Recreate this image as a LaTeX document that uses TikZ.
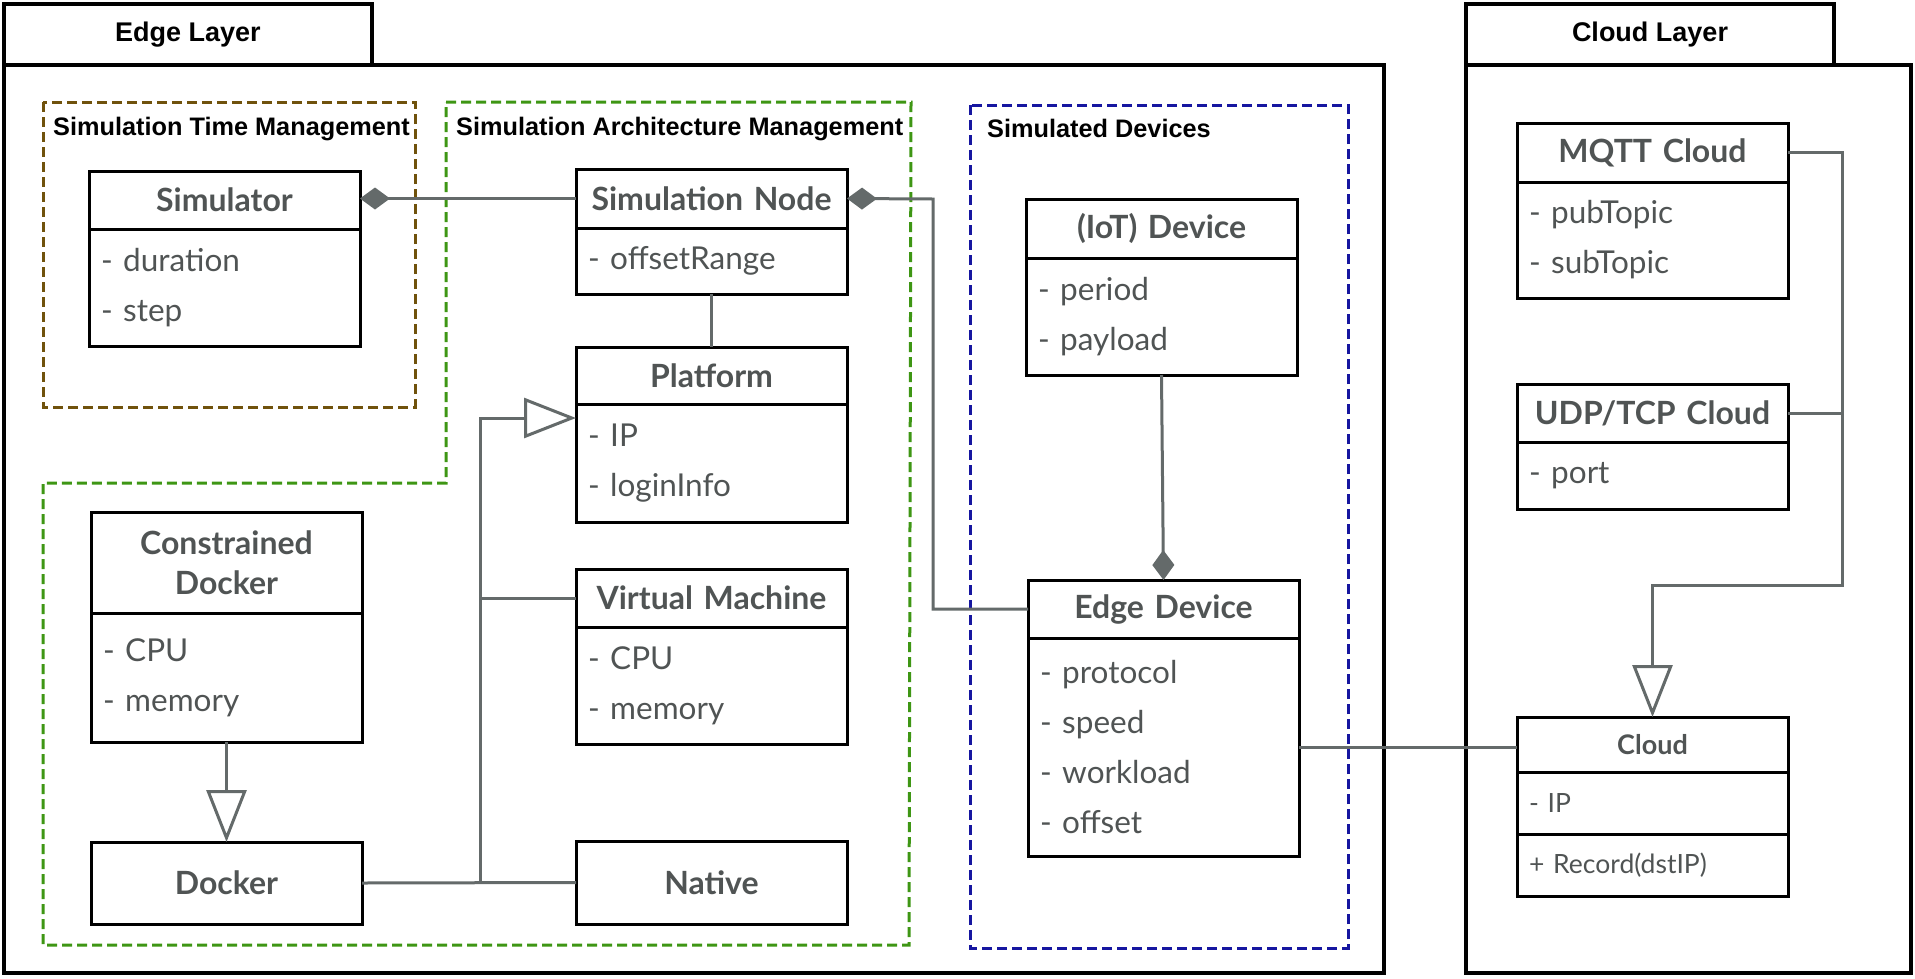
\documentclass[tikz,border=0pt]{standalone}
\usepackage{fontspec}
\setmainfont{Lato}
\newfontfamily\labelfont{Liberation Sans}
\usetikzlibrary{positioning,arrows.meta}
\definecolor{boxtext}{RGB}{80,84,84}
\definecolor{linkgray}{RGB}{100,106,106}
\definecolor{timebrown}{RGB}{112,82,12}
\definecolor{archgreen}{RGB}{62,150,20}
\definecolor{devblue}{RGB}{22,22,160}

\begin{document}
\begin{tikzpicture}[x=1pt, y=-1pt,
  umltitle/.style={draw, line width=3pt, outer sep=0pt, anchor=north west,
    minimum width=271pt, text width=247pt, inner xsep=12pt, inner ysep=0pt,
    minimum height=#1, align=center, text=boxtext,
    font=\fontsize{32}{40}\selectfont\bfseries},
  umltitle/.default=58pt,
  umlattrs/.style={draw, line width=3pt, outer sep=0pt,
    minimum width=271pt, text width=247pt, inner xsep=12pt, inner ysep=0pt,
    minimum height=#1, align=left, text=boxtext,
    font=\fontsize{31.5}{50}\selectfont},
  small/.style={font=\fontsize{26.5}{32}\selectfont},
  smallbold/.style={font=\fontsize{27}{32}\selectfont\bfseries},
  layertab/.style={draw, line width=3.5pt, outer sep=0pt, anchor=north west,
    minimum width=368pt, minimum height=61pt,
    font=\labelfont\fontsize{27}{30}\selectfont\bfseries},
  layer/.style={line width=3.5pt},
  grouplabel/.style={anchor=west, inner sep=0pt,
    font=\labelfont\fontsize{25.3}{28}\selectfont\bfseries},
  group/.style={line width=3pt, dash pattern=on 10pt off 5pt},
  conn/.style={draw=linkgray, line width=3pt},
  owns/.style={-{Diamond[length=30pt,width=22pt,fill=linkgray]}},
  extends/.style={-{Triangle[open,length=52pt,width=40pt,fill=white]}}]

\useasboundingbox (0,0) rectangle (1915,978);

% layers
\node[layertab] (edgetab) at (4,4) {Edge Layer};
\draw[layer] (4,65) rectangle (1384,973);
\node[layertab] (cloudtab) at (1466,4) {Cloud Layer};
\draw[layer] (1466,65) rectangle (1911,973);

% groups
\draw[group, timebrown] (43,102) rectangle (415,407);
\draw[group, archgreen] (446,102) -- (911,102) -- (909,945) -- (43,945) -- (43,483) -- (446,483) -- cycle;
\draw[group, devblue] (970,105) rectangle (1348,948);
\node[grouplabel] (timelbl) at (53,129) {Simulation Time Management};
\node[grouplabel] (archlbl) at (456,129) {Simulation Architecture Management};
\node[grouplabel] (devlbl) at (987,128) {Simulated Devices};

% classes
\node[umltitle] (simulator) at (89,171) {Simulator};
\node[umlattrs=117pt, below=0pt of simulator] (simulatorA) {- duration\\- step};
\node[umltitle=59pt] (simnode) at (576,169) {Simulation Node};
\node[umlattrs=66pt, below=0pt of simnode] (simnodeA) {- offsetRange};
\node[umltitle=57pt] (platform) at (576,347) {Platform};
\node[umlattrs=118pt, below=0pt of platform] (platformA) {- IP\\- loginInfo};
\node[umltitle] (vm) at (576,569) {Virtual Machine};
\node[umlattrs=117pt, below=0pt of vm] (vmA) {- CPU\\- memory};
\node[umltitle=83pt] (native) at (576,841) {Native};
\node[umltitle=101pt] (cdocker) at (91,512) {Constrained\\Docker};
\node[umlattrs=129pt, below=0pt of cdocker] (cdockerA) {- CPU\\- memory};
\node[umltitle=82pt] (docker) at (91,842) {Docker};

\node[umltitle=59pt] (iot) at (1026,199) {(IoT) Device};
\node[umlattrs=117pt, below=0pt of iot] (iotA) {- period\\- payload};
\node[umltitle] (edgedev) at (1028,580) {Edge Device};
\node[umlattrs=218pt, below=0pt of edgedev] (edgedevA) {- protocol\\- speed\\- workload\\- offset};

\node[umltitle=59pt] (mqtt) at (1517,123) {MQTT Cloud};
\node[umlattrs=116pt, below=0pt of mqtt] (mqttA) {- pubTopic\\- subTopic};
\node[umltitle] (udp) at (1517,384) {UDP/TCP Cloud};
\node[umlattrs=67pt, below=0pt of udp] (udpA) {- port};
\node[umltitle=55pt, smallbold] (cloud) at (1517,717) {Cloud};
\node[umlattrs=62pt, small, below=0pt of cloud] (cloudA) {- IP};
\node[umlattrs=62pt, small, below=0pt of cloudA] (cloudM) {+ Record(dstIP)};

% links
\coordinate (nodebend) at (933,199);
\coordinate (trunk) at (480,883);
\coordinate (cloudbus) at (1842,585);
\draw[conn, owns] (simnode.west) -- (simnode.west -| simulator.east);
\draw[conn, owns] (edgedev.west) -| (nodebend) -- (simnode.east);
\draw[conn] (simnodeA.south) -- (platform.north);
\draw[conn] (docker.east) -- (native.west);
\draw[conn, extends] (trunk) |- ([yshift=-14pt]platformA.north west);
\draw[conn] (trunk |- vm.west) -- (vm.west);
\draw[conn, extends] (cdockerA.south) -- (docker.north);
\draw[conn, owns] (iotA.south) -- (edgedev.north);
\draw[conn] (edgedevA.east) -- (edgedevA.east -| cloud.west);
\draw[conn, extends] (mqtt.east) -| (cloudbus) -| (cloud.north);
\draw[conn] (udp.east) -- (udp.east -| cloudbus);

\end{tikzpicture}
\end{document}
